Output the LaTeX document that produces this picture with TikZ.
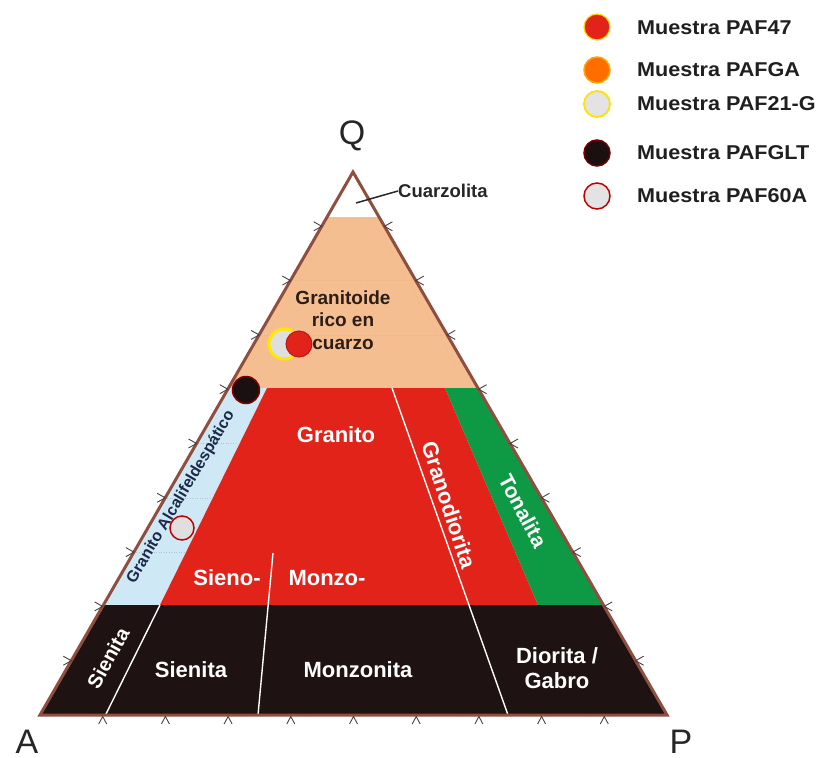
\documentclass[tikz,border=0pt]{standalone}
\usepackage{fontspec}
\setmainfont{Liberation Sans}
\definecolor{beige}{HTML}{F5BE91}
\definecolor{rojo}{HTML}{E2231A}
\definecolor{verde}{HTML}{0E9A45}
\definecolor{celeste}{HTML}{CFE8F6}
\definecolor{negro}{HTML}{1E1212}
\definecolor{borde}{HTML}{8E4E40}
\definecolor{navy}{HTML}{1C2A48}
\definecolor{tick}{HTML}{4A4040}
\tikzset{
  wline/.style={draw=white, line width=1.4pt},
  tk/.style={draw=tick, line width=0.9pt},
  wlbl/.style={font=\bfseries\fontsize{22}{24}\selectfont, text=white, inner sep=0pt},
  vert/.style={font=\fontsize{34}{40}\selectfont, text=black!85, inner sep=0pt},
  legtxt/.style={font=\bfseries\fontsize{20}{22}\selectfont, text=black!88, inner sep=0pt, anchor=west},
  dot/.style={circle, inner sep=0pt, minimum size=#1},
  grid1/.style={beige!85!brown, dotted, line width=0.6pt},
  grid2/.style={celeste!85!black, dotted, line width=0.5pt},
}
\begin{document}
\begin{tikzpicture}[x=1pt,y=-1pt]
\useasboundingbox (0,0) rectangle (825,758);
\coordinate (A) at (40,715);
\coordinate (P) at (667,715);
\coordinate (Q) at (353,172);
% regions
\fill[beige] (327.1,217) -- (379,217) -- (477.9,388) -- (228.5,388) -- cycle;
\fill[celeste] (228.5,388) -- (267,388) -- (160,605) -- (103.4,605) -- cycle;
\fill[rojo] (267,388) -- (445,388) -- (538,605) -- (160,605) -- cycle;
\fill[verde] (445,388) -- (477.9,388) -- (603.4,605) -- (538,605) -- cycle;
\fill[negro] (103.4,605) -- (603.4,605) -- (667,715) -- (40,715) -- cycle;
% faint grid
\draw[grid1] (292,280.6) -- (414,280.6);
\draw[grid1] (261,334.9) -- (445,334.9);
\draw[grid1] (330,226.6) -- (250,365);
\draw[grid1] (376,226.6) -- (456,365);
\draw[grid2] (198,443.5) -- (238,443.5);
\draw[grid2] (167,497.8) -- (212,497.8);
\draw[grid2] (136,552) -- (185,552);
% white division lines
\coordinate (s1) at (160,605); \coordinate (s2) at (105.5,715);
\coordinate (m1) at (273,553); \coordinate (m2) at (258,715);
\coordinate (g1) at (392,388); \coordinate (g2) at (508,715);
\draw[wline] (s1) -- (s2);
\draw[wline] (m1) -- (m2);
\draw[wline] (g1) -- (g2);
% outline
\draw[borde, line width=3pt, line join=miter] (A) -- (P) -- (Q) -- cycle;
% ticks
\foreach \k in {1,...,9}{
  \pgfmathsetmacro{\yy}{715-54.3*\k}
  \pgfmathsetmacro{\xl}{40+31.3*\k}
  \pgfmathsetmacro{\xr}{667-31.4*\k}
  \pgfmathsetmacro{\xb}{40+62.7*\k}
  \draw[tk] (\xl-8,\yy-4.5) -- (\xl,\yy) -- (\xl-8,\yy+4.5);
  \draw[tk] (\xr+8,\yy-4.5) -- (\xr,\yy) -- (\xr+8,\yy+4.5);
  \draw[tk] (\xb-4,724) -- (\xb,716.5) -- (\xb+4,724);
}
% vertex labels
\node[vert] (lq) at (352,136) {Q};
\node[vert] (la) at (27,742) {A};
\node[vert] (lp) at (681,742) {P};
% field labels
\node[inner sep=0pt, anchor=west, font=\bfseries\fontsize{18.5}{20}\selectfont, text=black!85] (cuarz) at (398,191) {Cuarzolita};
\coordinate (cz) at (356,203);
\draw[black!85, line width=1.5pt] (cz) -- (cuarz.west);
\node[inner sep=0pt, align=center, font=\bfseries\fontsize{19}{22.5}\selectfont, text=negro!90!brown] (grq) at (343,320) {Granitoide\\rico en\\cuarzo};
\node[wlbl] (gra) at (336,435) {Granito};
\node[wlbl] (sieno) at (227,578) {Sieno-};
\node[wlbl] (monzo) at (327,578) {Monzo-};
\node[wlbl, rotate=-72] (grd) at (449,505) {Granodiorita};
\node[wlbl, font=\bfseries\fontsize{21}{24}\selectfont, rotate=-62] (ton) at (523,511) {Tonalita};
\node[inner sep=0pt, font=\bfseries\fontsize{16}{18}\selectfont, text=navy, rotate=59.5] (gaf) at (181,497) {Granito Alcalifeldespático};
\node[wlbl, font=\bfseries\fontsize{20}{22}\selectfont, rotate=61] (sien1) at (108,658) {Sienita};
\node[wlbl] (sien2) at (191,670) {Sienita};
\node[wlbl] (monz) at (358,670) {Monzonita};
\node[wlbl, align=center, font=\bfseries\fontsize{22}{25}\selectfont] (dio) at (557,668) {Diorita /\\Gabro};
% sample points
\node[dot=30pt, fill=gray!25, draw={yellow!90!orange}, line width=3pt] (p21) at (284,344) {};
\node[dot=26pt, fill=rojo, draw=rojo!80!black, line width=1pt] (p47) at (299,344) {};
\node[dot=27pt, fill=negro!90!black, draw=red!50!black, line width=1.5pt] (pglt) at (246,390) {};
\node[dot=24pt, fill=gray!25, draw=red!75!black, line width=1.5pt] (p60) at (182,528) {};
% legend
\node[dot=26pt, fill=rojo, draw={yellow!80!orange}, line width=1.2pt] (c1) at (597,27) {};
\node[dot=26pt, fill={orange!85!red}, draw={orange!70!yellow}, line width=1.5pt] (c2) at (597,70) {};
\node[dot=26pt, fill=gray!22, draw={yellow!85!orange}, line width=1.8pt] (c3) at (597,104) {};
\node[dot=26pt, fill=negro!90!black, draw=red!45!black, line width=1.5pt] (c4) at (597,153) {};
\node[dot=26pt, fill=gray!22, draw=red!75!black, line width=1.5pt] (c5) at (597,196) {};
\node[legtxt] (t1) at (637,28) {\scalebox{1.08}[1]{Muestra PAF47}};
\node[legtxt] (t2) at (637,70) {\scalebox{1.08}[1]{Muestra PAFGA}};
\node[legtxt] (t3) at (637,104) {\scalebox{1.08}[1]{Muestra PAF21-G}};
\node[legtxt] (t4) at (637,153) {\scalebox{1.08}[1]{Muestra PAFGLT}};
\node[legtxt] (t5) at (637,196) {\scalebox{1.08}[1]{Muestra PAF60A}};
\end{tikzpicture}
\end{document}
